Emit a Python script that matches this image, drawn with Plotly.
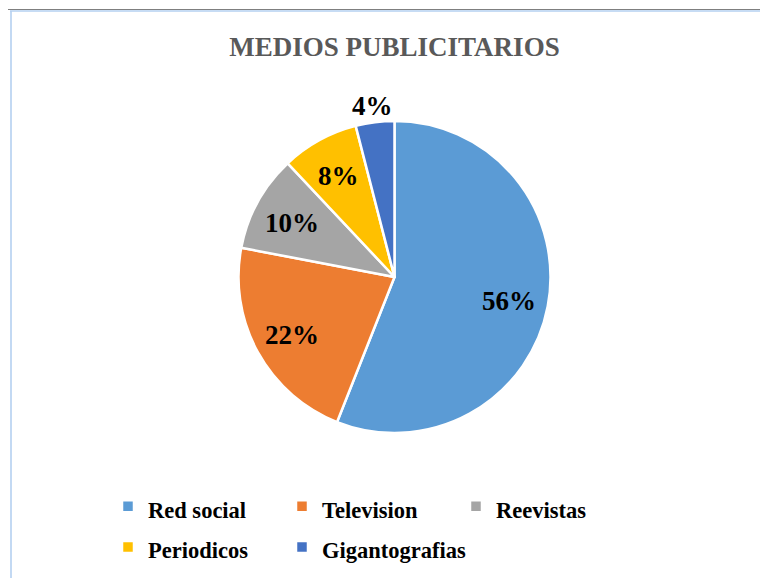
import math
import plotly.graph_objects as go

# ---- data ----
categories = ["Red social", "Television", "Reevistas", "Periodicos", "Gigantografias"]
shares = [56, 22, 10, 8, 4]
colors = ["#5B9BD5", "#ED7D31", "#A5A5A5", "#FFC000", "#4472C4"]
title_text = "MEDIOS PUBLICITARIOS"

# ---- layout constants (pixels, in the 768x578 reference frame) ----
OFF = 8                    # page body margin
W, H = 768 - OFF, 578 - OFF
MR = 130
GW = W - MR
CX, CY, R = 394.5, 277, 156
FONT = "Liberation Serif"


def px(x):
    return (x - OFF) / GW


def py(y):
    return 1 - (y - OFF) / H


legend_labels = [f"<span style='font-size:22.5px'>{c}</span>" for c in categories]

fig = go.Figure(
    go.Pie(
        labels=legend_labels,
        values=shares,
        marker=dict(colors=colors, line=dict(color="white", width=2.5)),
        sort=False,
        direction="clockwise",
        rotation=0,
        textinfo="none",
        hoverinfo="label+percent",
        domain=dict(x=[px(CX - R), px(CX + R)], y=[py(CY + R), py(CY - R)]),
        showlegend=True,
    )
)

# percentage labels placed along each slice bisector
total = sum(shares)
cum = 0
annotations = []
for v in shares:
    frac = v / total
    mid = (cum + frac / 2) * 2 * math.pi
    cum += frac
    rf = 1.12 if frac < 0.05 else 0.75
    lx = CX + rf * R * math.sin(mid)
    ly = CY - rf * R * math.cos(mid) + 2
    annotations.append(
        dict(
            x=px(lx), y=py(ly), xref="paper", yref="paper",
            text=f"{round(frac * 100)}%", showarrow=False,
            xanchor="center", yanchor="middle",
            font=dict(family=FONT, size=27, color="#000000", weight="bold"),
        )
    )

shapes = [
    dict(type="line", xref="paper", yref="paper", x0=px(0), x1=px(768), y0=py(9.5), y1=py(9.5),
         line=dict(color="#7f7f7f", width=1.2)),
    dict(type="line", xref="paper", yref="paper", x0=px(10), x1=px(768), y0=py(11), y1=py(11),
         line=dict(color="#b4d0f0", width=1.6)),
    dict(type="line", xref="paper", yref="paper", x0=px(11), x1=px(11), y0=py(11), y1=py(578),
         line=dict(color="#b4d0f0", width=1.6)),
]

fig.update_layout(
    width=W, height=H,
    margin=dict(l=0, r=MR, t=0, b=0),
    paper_bgcolor="white", plot_bgcolor="white",
    title=dict(
        text=title_text, x=px(CX), xref="paper", xanchor="center",
        y=1 - (47 - OFF) / H, yref="container", yanchor="middle",
        font=dict(family=FONT, size=27, color="#595959", weight="bold"),
    ),
    legend=dict(
        orientation="h", x=px(108), xanchor="left", y=py(481), yanchor="top",
        entrywidth=129, entrywidthmode="pixels",
        font=dict(family=FONT, size=29, color="#000000", weight="bold"),
        traceorder="normal", bgcolor="rgba(0,0,0,0)",
    ),
    annotations=annotations,
    shapes=shapes,
)

fig.write_html("out.html")
